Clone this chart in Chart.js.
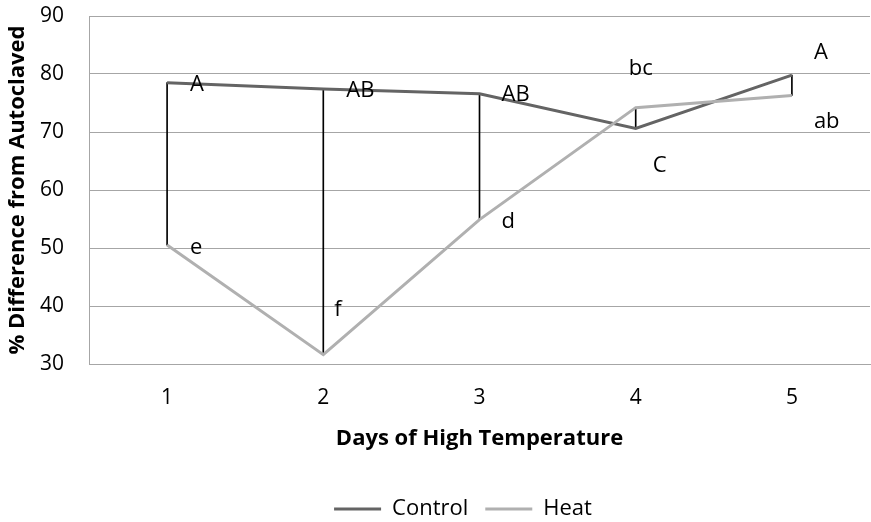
<!DOCTYPE html>
<html><head><meta charset="utf-8">
<script src="https://cdn.jsdelivr.net/npm/chart.js@4"></script>
<style>html,body{margin:0;padding:0;background:#fff}</style>
</head><body>
<canvas id="c" width="871" height="522"></canvas>
<script>
const categories = ['1', '2', '3', '4', '5'];
const controlValues = [78.5, 77.4, 76.6, 70.6, 79.8];
const heatValues = [50.5, 31.6, 54.9, 74.2, 76.3];
const yTicks = [30, 40, 50, 60, 70, 80, 90];
const controlLetters = ['A', 'AB', 'AB', 'C', 'A'];
const heatLetters = ['e', 'f', 'd', 'bc', 'ab'];
const controlLetterY = [78.1, 77.2, 76.4, 64.1, 83.6];
const heatLetterY = [50.0, 39.4, 54.6, 80.9, 71.7];

const FONT = '"Open Sans", "DejaVu Sans", sans-serif';
const GRID = '#a6a6a6';

const letterPlugin = {
  id: 'letters',
  afterLayout(chart, args, opts) {
    const lg = chart.legend;
    if (lg) {
      lg.left += opts.legendShiftX; lg.right += opts.legendShiftX;
      lg.top += opts.legendShiftY; lg.bottom += opts.legendShiftY;
    }
  },
  afterDatasetsDraw(chart, args, opts) {
    const ctx = chart.ctx, xs = chart.scales.x, ys = chart.scales.y;
    ctx.save();
    ctx.font = '22px ' + FONT;
    ctx.fillStyle = '#000';
    ctx.textAlign = 'left';
    ctx.textBaseline = 'middle';
    const groups = [[controlLetters, controlLetterY, opts.controlDx], [heatLetters, heatLetterY, opts.heatDx]];
    groups.forEach(([txt, yv, dx]) => {
      txt.forEach((t, i) => {
        ctx.fillText(t, xs.getPixelForValue(i) + dx[i], ys.getPixelForValue(yv[i]));
      });
    });
    ctx.restore();
  }
};

new Chart(document.getElementById('c'), {
  type: 'line',
  data: {
    labels: categories,
    datasets: [
      {
        label: 'Control', data: controlValues,
        borderColor: '#646464', backgroundColor: '#646464',
        borderWidth: 3, pointRadius: 0, tension: 0, order: 1
      },
      {
        label: 'Heat', data: heatValues,
        borderColor: '#b0b0b0', backgroundColor: '#b0b0b0',
        borderWidth: 3, pointRadius: 0, tension: 0, order: 0
      },
      {
        type: 'bar', label: 'drop',
        data: categories.map((c, i) => [heatValues[i], controlValues[i]]),
        backgroundColor: '#000', borderWidth: 0, barThickness: 1, order: 2
      }
    ]
  },
  options: {
    responsive: false,
    animation: false,
    layout: { padding: { top: 16, right: 1, left: 0, bottom: 0 } },
    plugins: {
      tooltip: { enabled: false },
      letters: { controlDx: [23, 23, 22, 17, 22], heatDx: [23, 11, 22, -7, 22], legendShiftX: 28, legendShiftY: 8 },
      legend: {
        position: 'bottom',
        labels: {
          font: { family: FONT, size: 22 },
          color: '#000',
          boxWidth: 47, boxHeight: 3,
          padding: 17,
          generateLabels: (chart) => [0, 1].map(i => ({
            text: chart.data.datasets[i].label,
            fillStyle: chart.data.datasets[i].borderColor,
            strokeStyle: chart.data.datasets[i].borderColor,
            lineWidth: 0,
            datasetIndex: i,
            fontColor: '#000'
          }))
        }
      }
    },
    scales: {
      x: {
        offset: true,
        grid: { display: false, drawTicks: false },
        border: { display: true, color: GRID },
        ticks: { font: { family: FONT, size: 21 }, color: '#000', padding: 21 },
        title: { display: true, text: 'Days of High Temperature', font: { family: FONT, size: 22, weight: 'bold' }, color: '#000', padding: { top: 0, bottom: 21 } },
        afterFit: (s) => { s.height = 109; }
      },
      y: {
        min: 30, max: 90,
        afterBuildTicks: (s) => { s.ticks = yTicks.map(v => ({ value: v })); },
        grid: { color: GRID, drawTicks: true, tickLength: 22, tickColor: 'rgba(0,0,0,0)' },
        border: { display: true, color: GRID },
        ticks: { font: { family: FONT, size: 21 }, color: '#000', padding: 3 },
        title: { display: true, text: '% Difference from Autoclaved', font: { family: FONT, size: 22, weight: 'bold' }, color: '#000', padding: { top: 5, bottom: 0 } },
        afterFit: (s) => { s.width = 89; }
      }
    }
  },
  plugins: [letterPlugin]
});
</script>
</body></html>
